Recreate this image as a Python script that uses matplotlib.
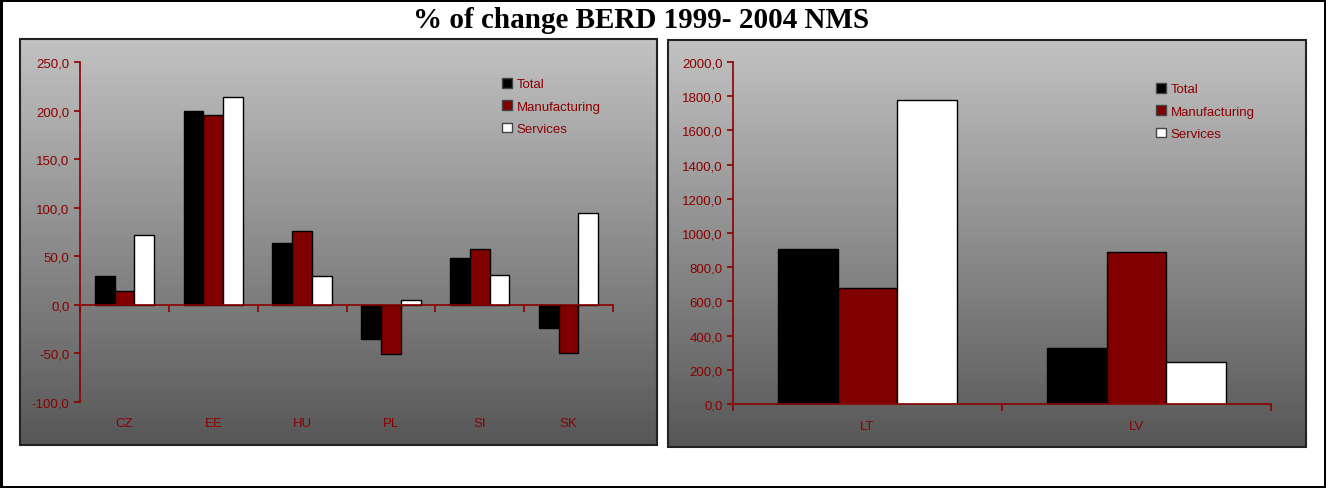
import numpy as np
import matplotlib
matplotlib.use("Agg")
import matplotlib.pyplot as plt
from matplotlib.colors import LinearSegmentedColormap
from matplotlib.patches import Rectangle
from matplotlib.ticker import FuncFormatter
import matplotlib.transforms as mtransforms

# data
series = ["Total", "Manufacturing", "Services"]
colors = ["#000000", "#800000", "#ffffff"]

left_countries = ["CZ", "EE", "HU", "PL", "SI", "SK"]
left_total = [30, 200, 64, -35, 48, -24]
left_manuf = [14, 195, 76, -51, 58, -50]
left_serv = [72, 214, 30, 5, 31, 95]

right_countries = ["LT", "LV"]
right_total = [905, 325]
right_manuf = [680, 890]
right_serv = [1775, 245]

dark_red = "#8b0000"
W, H = 1326, 489

plt.rcParams['font.family'] = ['Liberation Sans', 'DejaVu Sans']

fig = plt.figure(figsize=(W / 100, H / 100), dpi=100)
fig.patch.set_facecolor("white")
fig.patch.set_edgecolor("black")
fig.patch.set_linewidth(2.5)

grad_cmap = LinearSegmentedColormap.from_list("bg", ["#c2c2c2", "#575757"])


def px_box(x0, y0, x1, y1):
    # pixel box (top-left origin) -> figure fraction rect
    return [x0 / W, 1 - y1 / H, (x1 - x0) / W, (y1 - y0) / H]


def panel_bg(x0, y0, x1, y1):
    bg = fig.add_axes(px_box(x0, y0, x1, y1), zorder=0)
    grad = np.linspace(0, 1, 256).reshape(-1, 1)
    bg.imshow(grad, cmap=grad_cmap, aspect="auto", extent=[0, 1, 0, 1], origin="upper")
    bg.set_xlim(0, 1)
    bg.set_ylim(0, 1)
    bg.axis("off")
    bg.add_patch(Rectangle((0, 0), 1, 1, transform=bg.transAxes, fill=False,
                           edgecolor="#222222", linewidth=1.5, clip_on=False))


def bar_panel(rect, cats, vals, ylim, ystep, legend_xy, lab_off):
    ax = fig.add_axes(rect, zorder=1)
    ax.patch.set_alpha(0)
    n = len(cats)
    x = np.arange(n)
    bw = 1 / 4.5
    for i, (name, v) in enumerate(zip(series, vals)):
        ax.bar(x + (i - 1) * bw, v, width=bw, color=colors[i], edgecolor="black",
               linewidth=1.0, label=name, zorder=2)
    ax.set_xlim(-0.5, n - 0.5)
    ax.set_ylim(*ylim)
    ax.set_yticks(np.arange(ylim[0], ylim[1] + 1, ystep))
    ax.yaxis.set_major_formatter(FuncFormatter(lambda v, p: f"{v:.1f}".replace(".", ",")))
    ax.set_xticks(np.arange(n + 1) - 0.5)
    ax.set_xticklabels([])
    for s in ["top", "right"]:
        ax.spines[s].set_visible(False)
    for s in ["left", "bottom"]:
        ax.spines[s].set_color(dark_red)
        ax.spines[s].set_linewidth(1.2)
    ax.spines["bottom"].set_position(("data", 0))
    ax.spines["bottom"].set_zorder(3)
    ax.tick_params(axis="y", colors=dark_red, labelsize=9.5, length=4, width=1.2, direction="out")
    ax.tick_params(axis="x", colors=dark_red, length=5, width=1.2, direction="out")
    # category labels below the plot area
    trans = mtransforms.blended_transform_factory(ax.transData, ax.transAxes)
    off = mtransforms.ScaledTranslation(0, -lab_off / 100, fig.dpi_scale_trans)
    for xi, c in zip(x, cats):
        ax.text(xi, 0, c, transform=trans + off, ha="center", va="center",
                color=dark_red, fontsize=9.5)
    leg = ax.legend(loc="upper left", bbox_to_anchor=(legend_xy[0] / W, 1 - legend_xy[1] / H),
                    bbox_transform=fig.transFigure, frameon=False, fontsize=9.5,
                    handlelength=0.75, handleheight=0.75, handletextpad=0.35,
                    labelspacing=0.75, borderaxespad=0, borderpad=0)
    for t in leg.get_texts():
        t.set_color(dark_red)
    for h in leg.legend_handles:
        h.set_edgecolor("#444444")
    return ax


panel_bg(20, 40, 657, 446)
panel_bg(668, 41, 1306, 448)

bar_panel(px_box(80, 63, 613, 403), left_countries,
          [left_total, left_manuf, left_serv], (-100, 250), 50, (502, 79), 21)
bar_panel(px_box(733, 63, 1271, 405), right_countries,
          [right_total, right_manuf, right_serv], (0, 2000), 200, (1156, 84), 22)

fig.text(641 / W, 1 - 20 / H, "% of change BERD 1999- 2004 NMS", ha="center", va="center",
         fontsize=21, fontweight="bold", family=["Liberation Serif", "DejaVu Serif"])

fig.savefig("out.png", dpi=100)
